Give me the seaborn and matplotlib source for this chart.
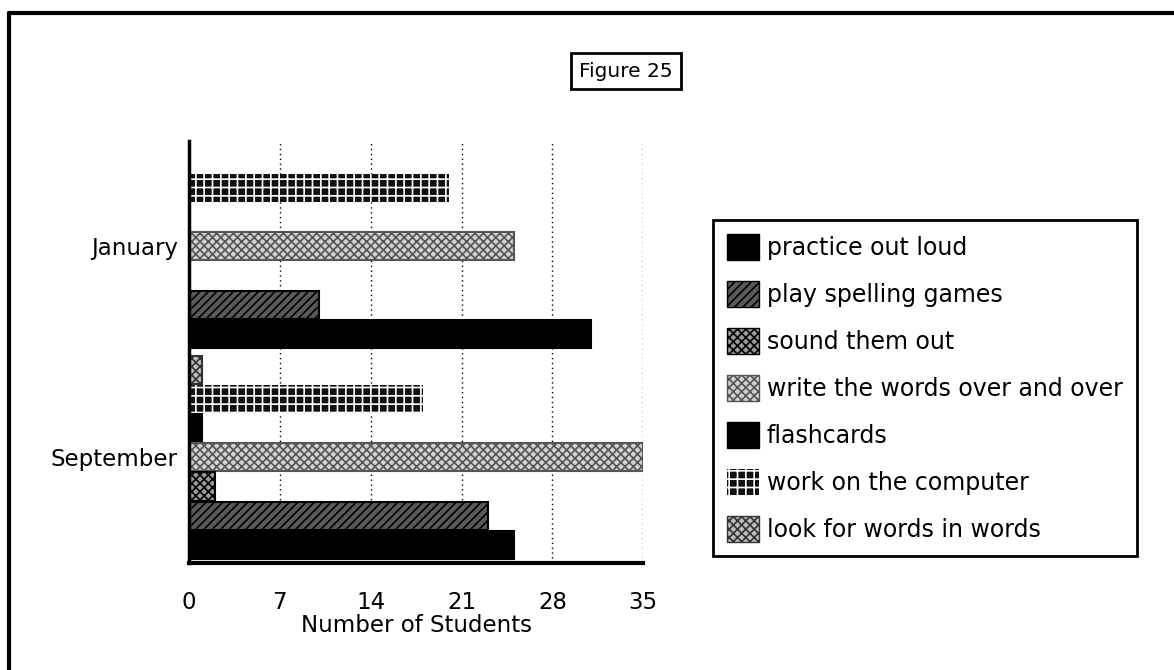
import matplotlib
matplotlib.use('Agg')
import matplotlib.pyplot as plt
from matplotlib.patches import Patch
from matplotlib.lines import Line2D
import pandas as pd
import seaborn as sns

# Datos (numero de alumnos por estrategia)
months = ["January", "September"]
strategies = [
    "practice out loud",
    "play spelling games",
    "sound them out",
    "write the words over and over",
    "flashcards",
    "work on the computer",
    "look for words in words",
]
january = [31, 10, 0, 25, 0, 20, 0]
september = [25, 23, 2, 35, 1, 18, 1]
x_ticks = [0, 7, 14, 21, 28, 35]

# Estilo de relleno por estrategia: (color, trama, color de trama)
styles = {
    "practice out loud": ("#000000", None, "black"),
    "play spelling games": ("#5a5a5a", "////", "black"),
    "sound them out": ("#9a9a9a", "xxxx", "black"),
    "write the words over and over": ("#d2d2d2", "xxxx", "#555555"),
    "flashcards": ("#000000", None, "black"),
    "work on the computer": ("#111111", "++", "white"),
    "look for words in words": ("#bdbdbd", "xxxx", "#333333"),
}

rows = []
for s, j, se in zip(strategies, january, september):
    rows.append({"month": "January", "strategy": s, "students": j})
    rows.append({"month": "September", "strategy": s, "students": se})
df = pd.DataFrame(rows)

sns.set_style("white")
plt.rcParams['font.family'] = ['DejaVu Sans']
plt.rcParams['hatch.linewidth'] = 1.2
for k in ['text.color', 'axes.labelcolor', 'xtick.color', 'ytick.color']:
    plt.rcParams[k] = 'black'

FS = 16.5

fig = plt.figure(figsize=(11.74, 6.70), dpi=100)
ax = fig.add_axes([0.161, 0.160, 0.387, 0.630])

# Orden inverso para que "practice out loud" quede abajo en cada grupo
hue_order = strategies[::-1]
palette = {s: styles[s][0] for s in strategies}
sns.barplot(
    data=df, x="students", y="month", hue="strategy",
    order=months, hue_order=hue_order, palette=palette,
    orient="h", width=0.97, gap=0.04, legend=False, ax=ax,
    edgecolor="black", linewidth=1.5, saturation=1,
)

for cont, s in zip(ax.containers, hue_order):
    face, hatch, hcol = styles[s]
    for bar in cont:
        if hatch:
            bar.set_hatch(hatch)
            bar.set_edgecolor(hcol)
            if hcol == "white":
                bar.set_linewidth(0)

ax.set_xlim(0, 35)
ax.set_ylim(1.5, -0.5)
ax.set_xticks(x_ticks)
ax.set_xticklabels([str(t) for t in x_ticks], fontsize=FS)
ax.set_yticks([0, 1])
ax.set_yticklabels(months, fontsize=FS)
ax.set_yticks([0.5, 1.5], minor=True)
ax.tick_params(axis="y", which="major", length=0, pad=8)
ax.tick_params(axis="y", which="minor", length=10, width=2, color="black")
ax.tick_params(axis="x", length=4, width=1, color="black", pad=16)
ax.set_xlabel("Number of Students", fontsize=FS, labelpad=0)
ax.set_ylabel("")

ax.set_axisbelow(True)
ax.xaxis.grid(True, linestyle=(0, (1, 2.5)), color="black", linewidth=1)
for side in ["top", "right"]:
    ax.spines[side].set_visible(False)
ax.spines["left"].set_linewidth(2.5)
ax.spines["bottom"].set_linewidth(3)
ax.spines["left"].set_color("black")
ax.spines["bottom"].set_color("black")

# Leyenda en el orden original
handles = []
for s in strategies:
    face, hatch, hcol = styles[s]
    handles.append(Patch(facecolor=face, hatch=hatch,
                         edgecolor=hcol if hatch else "black",
                         linewidth=0 if hcol == "white" else 1, label=s))
leg = fig.legend(
    handles=handles, loc="upper left", bbox_to_anchor=(0.607, 0.672),
    bbox_transform=fig.transFigure, fontsize=17, frameon=True, framealpha=1,
    fancybox=False, edgecolor="black", handlelength=1.35, handleheight=1.3,
    handletextpad=0.35, labelspacing=0.9, borderpad=0.6, borderaxespad=0,
)
leg.get_frame().set_linewidth(2)

# Titulo en recuadro
fig.text(0.533, 0.894, "Figure 25", fontsize=14.5, ha="center", va="center",
         bbox=dict(boxstyle="square,pad=0.4", facecolor="white",
                   edgecolor="black", linewidth=2))

# Marco exterior (cortado a la derecha y abajo)
fig.add_artist(Line2D([0.008, 1.0], [0.981, 0.981], color="black", lw=3,
                      transform=fig.transFigure))
fig.add_artist(Line2D([0.008, 0.008], [0.981, 0.0], color="black", lw=3,
                      transform=fig.transFigure))

fig.savefig("out.png", dpi=100)
